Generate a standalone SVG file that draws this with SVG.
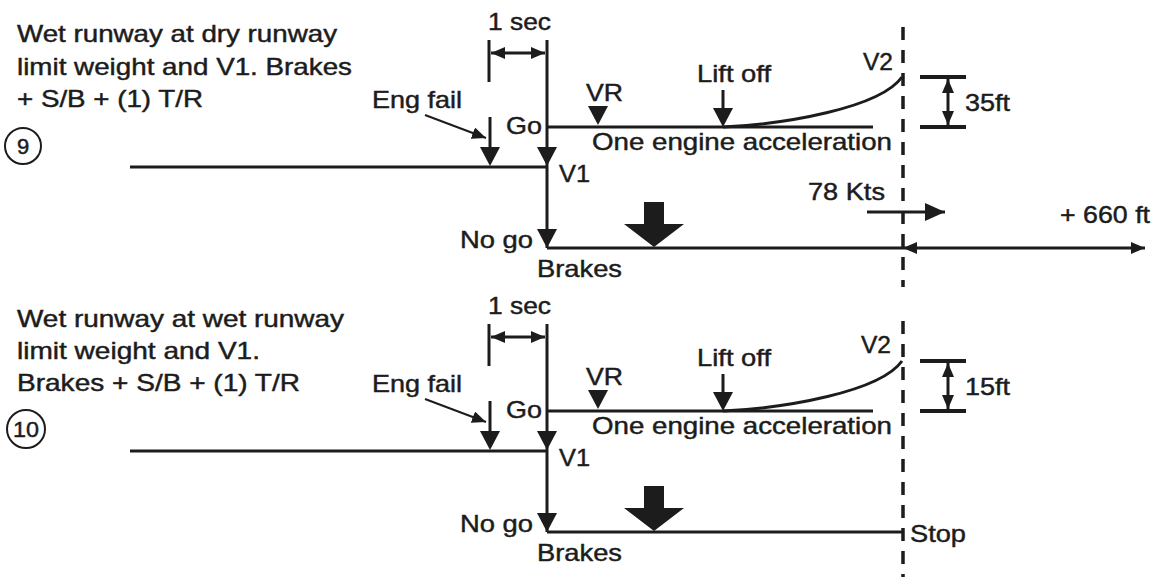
<svg xmlns="http://www.w3.org/2000/svg" width="1155" height="577" viewBox="0 0 1155 577">
<style>
text{font-family:"Liberation Sans",Arial,Helvetica,sans-serif;font-size:24px;fill:#1c1c1c;stroke:#1c1c1c;stroke-width:0.45}
.ln{stroke:#1c1c1c;stroke-width:3;fill:none}
.thin{stroke:#1c1c1c;stroke-width:2;fill:none}
.bar{stroke:#1c1c1c;stroke-width:4;fill:none}
.dash{stroke:#1c1c1c;stroke-width:3.5;stroke-dasharray:13 10;fill:none}
.fl{fill:#1c1c1c}
.num{font-size:22px}
</style>
<defs>
<marker id="ah" viewBox="0 0 14 12" refX="14" refY="6" markerWidth="14" markerHeight="12" markerUnits="userSpaceOnUse" orient="auto-start-reverse"><path d="M0,0L14,6L0,12z" fill="#1c1c1c"/></marker>
<marker id="ahL" viewBox="0 0 20 18" refX="20" refY="9" markerWidth="20" markerHeight="18" markerUnits="userSpaceOnUse" orient="auto-start-reverse"><path d="M0,0L20,9L0,18z" fill="#1c1c1c"/></marker>
<path id="tri" d="M-10,-19L10,-19L0,0z"/>
<path id="big" d="M-10,-45L10,-45L10,-23L30,-23L0,0L-30,-23L-10,-23z"/>
</defs>
<rect width="1155" height="577" fill="#ffffff"/>

<!-- Case 9 -->
<g id="case9">
  <g id="connectors9">
    <path class="ln" d="M130,167H547"/>
    <path class="ln" d="M547,40V248"/>
    <path class="ln" d="M489,40V82"/>
    <path class="ln" d="M491,53H545" marker-start="url(#ah)" marker-end="url(#ah)"/>
    <path class="ln" d="M490,117V150"/>
    <use href="#tri" x="490" y="166" class="fl"/>
    <use href="#tri" x="547" y="166" class="fl"/>
    <path class="ln" d="M547,127H873"/>
    <use href="#tri" x="598" y="125" class="fl"/>
    <path class="ln" d="M723,90V110"/>
    <use href="#tri" x="723" y="127" class="fl"/>
    <path class="ln" d="M723,127C785,124 880,108 902,77"/>
    <path class="thin" d="M425,115L486,138" marker-end="url(#ah)"/>
    <path class="bar" d="M920,77H966M920,127H966"/>
    <path class="ln" d="M948,79V125" marker-start="url(#ah)" marker-end="url(#ah)"/>
    <use href="#tri" x="547" y="248" class="fl"/>
    <path class="ln" d="M547,248H903"/>
    <path class="ln" d="M903,248H1145" marker-start="url(#ah)" marker-end="url(#ah)"/>
    <path class="ln" d="M867,212H945" marker-end="url(#ahL)"/>
    <use href="#big" x="654" y="247" class="fl"/>
    <path class="dash" d="M903,27V287"/>
  </g>
  <g id="title9">
    <text x="17" y="42" textLength="320" lengthAdjust="spacingAndGlyphs">Wet runway at dry runway</text>
    <text x="17" y="75" textLength="335" lengthAdjust="spacingAndGlyphs">limit weight and V1. Brakes</text>
    <text x="17" y="107" textLength="186" lengthAdjust="spacingAndGlyphs">+ S/B + (1) T/R</text>
  </g>
  <g id="num9">
    <circle class="thin" cx="23" cy="146" r="18"/>
    <text class="num" x="23" y="154" text-anchor="middle">9</text>
  </g>
  <g id="onesec9"><text x="488" y="30" textLength="63" lengthAdjust="spacingAndGlyphs">1 sec</text></g>
  <g id="engfail9"><text x="372" y="108" textLength="90" lengthAdjust="spacingAndGlyphs">Eng fail</text></g>
  <g id="go9"><text x="506" y="134" textLength="36" lengthAdjust="spacingAndGlyphs">Go</text></g>
  <g id="v1_9"><text x="559" y="182" textLength="31" lengthAdjust="spacingAndGlyphs">V1</text></g>
  <g id="vr9"><text x="586" y="101" textLength="37" lengthAdjust="spacingAndGlyphs">VR</text></g>
  <g id="liftoff9"><text x="697" y="82" textLength="74" lengthAdjust="spacingAndGlyphs">Lift off</text></g>
  <g id="v2_9"><text x="863" y="70" textLength="30" lengthAdjust="spacingAndGlyphs">V2</text></g>
  <g id="accel9"><text x="592" y="150" textLength="300" lengthAdjust="spacingAndGlyphs">One engine acceleration</text></g>
  <g id="height9"><text x="965" y="111" textLength="45" lengthAdjust="spacingAndGlyphs">35ft</text></g>
  <g id="kts9"><text x="808" y="200" textLength="77" lengthAdjust="spacingAndGlyphs">78 Kts</text></g>
  <g id="extra9"><text x="1060" y="223" textLength="90" lengthAdjust="spacingAndGlyphs">+ 660 ft</text></g>
  <g id="nogo9"><text x="460" y="248" textLength="73" lengthAdjust="spacingAndGlyphs">No go</text></g>
  <g id="brakes9"><text x="537" y="277" textLength="85" lengthAdjust="spacingAndGlyphs">Brakes</text></g>
</g>

<!-- Case 10 -->
<g id="case10" transform="translate(0,284)">
  <g id="connectors10">
    <path class="ln" d="M130,167H547"/>
    <path class="ln" d="M547,40V248"/>
    <path class="ln" d="M489,40V82"/>
    <path class="ln" d="M491,53H545" marker-start="url(#ah)" marker-end="url(#ah)"/>
    <path class="ln" d="M490,117V150"/>
    <use href="#tri" x="490" y="166" class="fl"/>
    <use href="#tri" x="547" y="166" class="fl"/>
    <path class="ln" d="M547,127H873"/>
    <use href="#tri" x="598" y="125" class="fl"/>
    <path class="ln" d="M723,90V110"/>
    <use href="#tri" x="723" y="127" class="fl"/>
    <path class="ln" d="M723,127C785,124 880,108 902,77"/>
    <path class="thin" d="M425,115L486,138" marker-end="url(#ah)"/>
    <path class="bar" d="M920,77H966M920,127H966"/>
    <path class="ln" d="M948,79V125" marker-start="url(#ah)" marker-end="url(#ah)"/>
    <use href="#tri" x="547" y="248" class="fl"/>
    <path class="ln" d="M547,248H903"/>
    <use href="#big" x="654" y="247" class="fl"/>
    <path class="dash" d="M903,37V293"/>
  </g>
  <g id="title10">
    <text x="17" y="43" textLength="327" lengthAdjust="spacingAndGlyphs">Wet runway at wet runway</text>
    <text x="17" y="75" textLength="243" lengthAdjust="spacingAndGlyphs">limit weight and V1.</text>
    <text x="17" y="107" textLength="283" lengthAdjust="spacingAndGlyphs">Brakes + S/B + (1) T/R</text>
  </g>
  <g id="num10">
    <circle class="thin" cx="26" cy="145" r="19"/>
    <text class="num" x="13" y="153" textLength="26" lengthAdjust="spacingAndGlyphs">10</text>
  </g>
  <g id="onesec10"><text x="488" y="30" textLength="63" lengthAdjust="spacingAndGlyphs">1 sec</text></g>
  <g id="engfail10"><text x="372" y="108" textLength="90" lengthAdjust="spacingAndGlyphs">Eng fail</text></g>
  <g id="go10"><text x="506" y="134" textLength="36" lengthAdjust="spacingAndGlyphs">Go</text></g>
  <g id="v1_10"><text x="559" y="182" textLength="31" lengthAdjust="spacingAndGlyphs">V1</text></g>
  <g id="vr10"><text x="586" y="101" textLength="37" lengthAdjust="spacingAndGlyphs">VR</text></g>
  <g id="liftoff10"><text x="697" y="82" textLength="74" lengthAdjust="spacingAndGlyphs">Lift off</text></g>
  <g id="v2_10"><text x="861" y="69" textLength="30" lengthAdjust="spacingAndGlyphs">V2</text></g>
  <g id="accel10"><text x="592" y="150" textLength="300" lengthAdjust="spacingAndGlyphs">One engine acceleration</text></g>
  <g id="height10"><text x="965" y="111" textLength="45" lengthAdjust="spacingAndGlyphs">15ft</text></g>
  <g id="nogo10"><text x="460" y="248" textLength="73" lengthAdjust="spacingAndGlyphs">No go</text></g>
  <g id="brakes10"><text x="537" y="277" textLength="85" lengthAdjust="spacingAndGlyphs">Brakes</text></g>
  <g id="stop10"><text x="910" y="258" textLength="56" lengthAdjust="spacingAndGlyphs">Stop</text></g>
</g>
</svg>
